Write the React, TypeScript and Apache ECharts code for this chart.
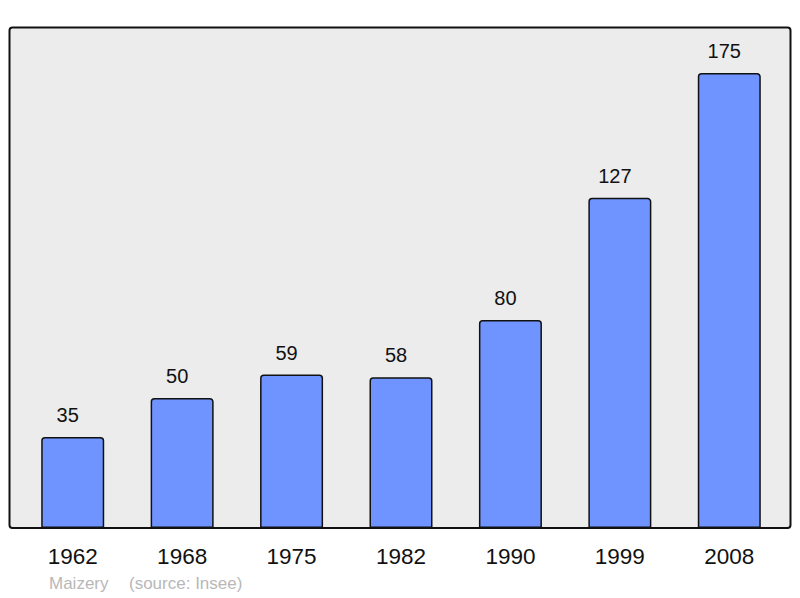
import React, { useEffect, useRef } from "react";
import * as echarts from "echarts";

const years = ["1962", "1968", "1975", "1982", "1990", "1999", "2008"];
const population = [35, 50, 59, 58, 80, 127, 175];
const footerName = "Maizery";
const footerSource = "(source: Insee)";

export default function App() {
  const ref = useRef<HTMLDivElement>(null);
  useEffect(() => {
    if (!ref.current) return;
    const chart = echarts.init(ref.current, undefined, { renderer: "svg" });
    const font = "'Liberation Sans', Arial, sans-serif";
    chart.setOption({
      animation: false,
      textStyle: { fontFamily: font },
      graphic: [
        {
          type: "rect",
          z: -10,
          shape: { x: 9.5, y: 27.5, width: 781, height: 500.5, r: 3 },
          style: { fill: "#ececec", stroke: "#111", lineWidth: 2 },
        },
        {
          type: "text",
          left: 49,
          top: 575,
          style: { text: footerName, fill: "#b8b8b8", font: "17px " + font },
        },
        {
          type: "text",
          left: 129,
          top: 575,
          style: { text: footerSource, fill: "#b8b8b8", font: "17px " + font },
        },
      ],
      grid: { left: 18, top: 27, width: 766, height: 501, containLabel: false },
      xAxis: {
        type: "category",
        data: years,
        axisLine: { show: false },
        axisTick: { show: false },
        axisLabel: { color: "#111", fontSize: 22.5, margin: 17 },
      },
      yAxis: {
        type: "value",
        min: 0,
        max: 192.7,
        show: false,
        splitLine: { show: false },
      },
      series: [
        {
          type: "bar",
          data: population,
          barWidth: 63,
          itemStyle: {
            color: "#7094ff",
            borderColor: "#111",
            borderWidth: 1.5,
            borderRadius: [3, 3, 0, 0],
          },
          label: {
            show: true,
            position: "top",
            distance: 12,
            offset: [-5, 0],
            color: "#111",
            fontSize: 20,
          },
        },
      ],
    });
    return () => chart.dispose();
  }, []);
  return <div ref={ref} style={{ width: 800, height: 598, position: "absolute", left: 0, top: 0 }} />;
}
